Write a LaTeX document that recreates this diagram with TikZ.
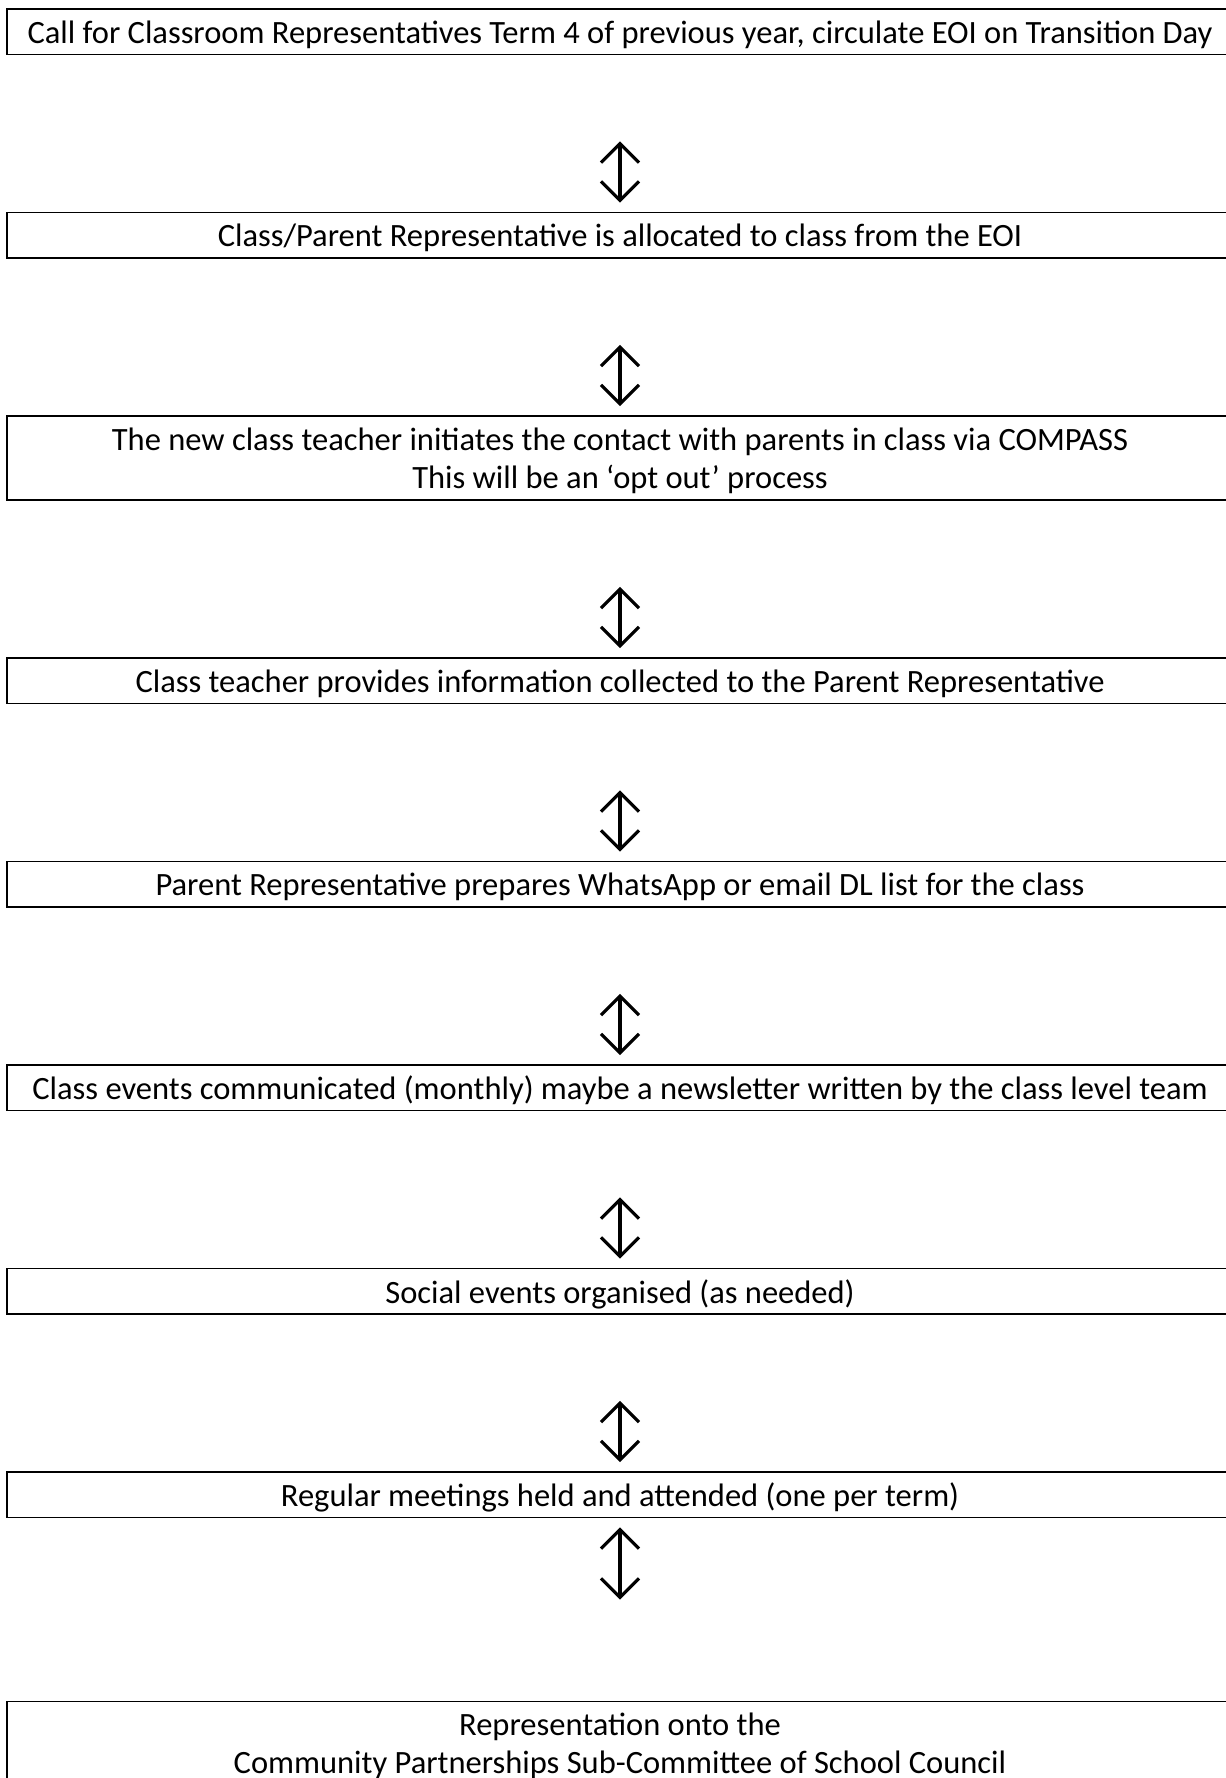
\documentclass[tikz,border=0pt]{standalone}
\usepackage{fontspec}
\setmainfont{Carlito}
\usetikzlibrary{arrows.meta,positioning}

\tikzset{
  stepbox/.style={rectangle, draw, line width=1pt, minimum width=24.52cm, minimum height=0.91cm, align=center, inner sep=0pt, text depth=0pt}, % one stage of the process
  twoline/.style={stepbox, minimum height=1.68cm},
  link/.style={{Straight Barb[length=0.38cm,width=0.76cm]}-{Straight Barb[length=0.38cm,width=0.76cm]}, line width=1.8pt, line cap=round, shorten <=1.72cm, shorten >=0.18cm}
}

\begin{document}
\begin{tikzpicture}[node distance=3.125cm, font=\fontsize{18.5}{21.6}\selectfont]
  \useasboundingbox (0,0) rectangle (24.52,-35.56);

  % Nodes
  \node [stepbox] (call) at (12.4,-0.635) {Call for Classroom Representatives Term 4 of previous year, circulate EOI on Transition Day};
  \node [stepbox, below=of call] (allocate) {Class/Parent Representative is allocated to class from the EOI};
  \node [twoline, below=of allocate] (contact) {The new class teacher initiates the contact with parents in class via COMPASS\\ This will be an ‘opt out’ process};
  \node [stepbox, below=of contact] (info) {Class teacher provides information collected to the Parent Representative};
  \node [stepbox, below=of info] (list) {Parent Representative prepares WhatsApp or email DL list for the class};
  \node [stepbox, below=of list] (events) {Class events communicated (monthly) maybe a newsletter written by the class level team};
  \node [stepbox, below=of events] (social) {Social events organised (as needed)};
  \node [stepbox, below=of social] (meetings) {Regular meetings held and attended (one per term)};
  \node [twoline, below=3.645cm of meetings] (council) {Representation onto the\\ Community Partnerships Sub-Committee of School Council};

  % Arrows
  \draw[link] (call) -- (allocate);
  \draw[link] (allocate) -- (contact);
  \draw[link] (contact) -- (info);
  \draw[link] (info) -- (list);
  \draw[link] (list) -- (events);
  \draw[link] (events) -- (social);
  \draw[link] (social) -- (meetings);
  \draw[link, shorten <=0.18cm, shorten >=2.02cm] (meetings) -- (council);

\end{tikzpicture}
\end{document}
